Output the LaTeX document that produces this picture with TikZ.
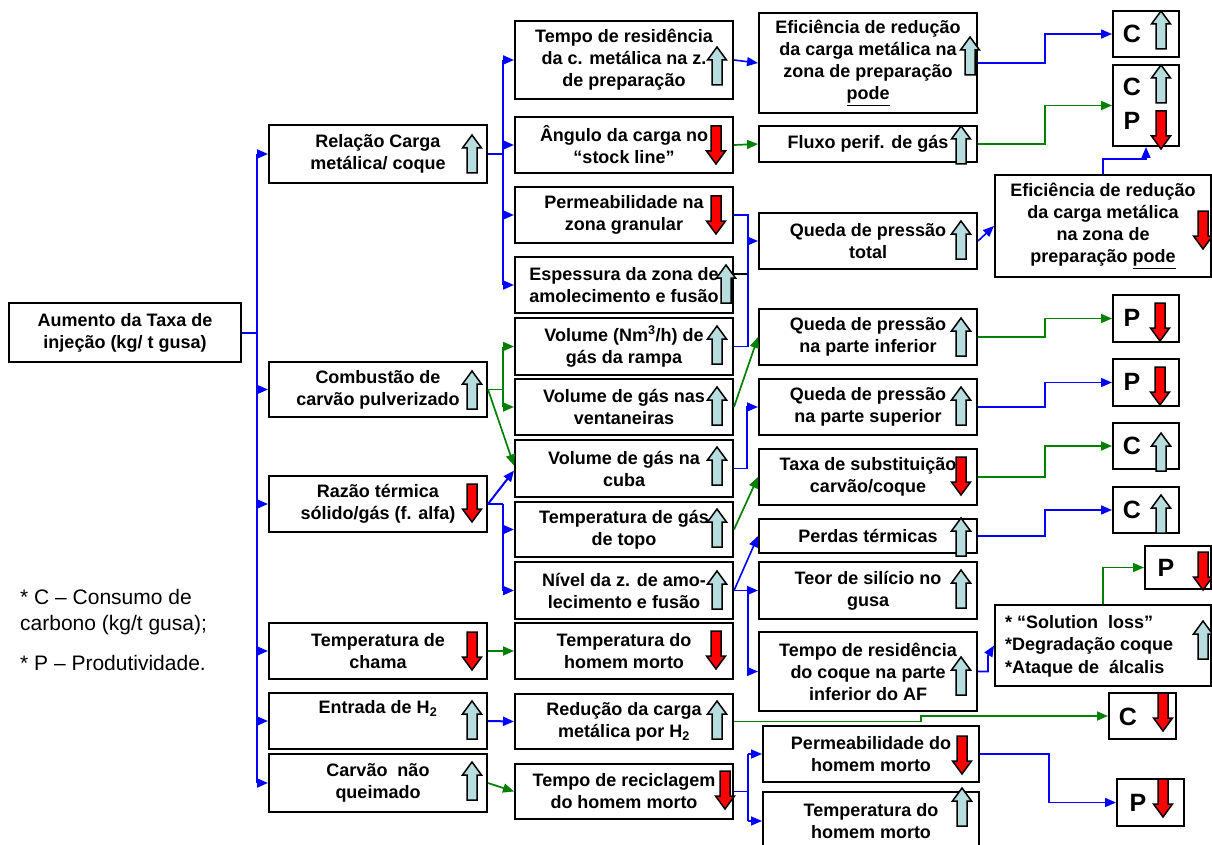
\documentclass[tikz,border=0pt]{standalone}
\usepackage{fontspec}
\setmainfont{Liberation Sans}
\usetikzlibrary{arrows.meta,calc}
\definecolor{lblue}{RGB}{183,221,223}
\definecolor{gr}{RGB}{0,128,0}
\definecolor{bb}{RGB}{0,0,255}
\tikzset{
  box/.style={draw=black,line width=2pt,fill=white,inner sep=0pt,align=center,
    font=\bfseries\fontsize{18}{22}\selectfont},
  let/.style={inner sep=0pt,font=\bfseries\fontsize{25}{25}\selectfont},
  tipA/.style={-{Triangle[length=11pt,width=9pt]}},
  blt/.style={draw=bb,line width=2pt},
  bl/.style={draw=bb,line width=1.6pt},
  gl/.style={draw=gr,line width=1.7pt},
  uarr/.pic={\draw[line width=1.5pt,fill=lblue,line join=miter]
    (-5,19) -- (-5,-6) -- (-9.5,-6) -- (0,-19) -- (9.5,-6) -- (5,-6) -- (5,19) -- cycle;},
  darr/.pic={\draw[line width=1.5pt,fill=red,line join=miter]
    (-5,-19) -- (-5,6) -- (-9.5,6) -- (0,19) -- (9.5,6) -- (5,6) -- (5,-19) -- cycle;}
}
\newcommand\bxe[6]{%
  \pgfmathsetmacro\bxw{#4-#2}\pgfmathsetmacro\bxh{#5-#3}%
  \pgfmathsetmacro\bxcx{(#2+#4)/2}\pgfmathsetmacro\bxcy{(#3+#5)/2}%
  \node[box,minimum width=\bxw pt,minimum height=\bxh pt] (#1) at (\bxcx,\bxcy) {#6};}
\begin{document}
\begin{tikzpicture}[x=1pt,y=-1pt]
\useasboundingbox (0,0) rectangle (1212,845);
\fill[white] (0,0) rectangle (1212,845);
% ---------- boxes ----------
\bxe{root}{9}{303}{241}{362}{Aumento da Taxa de\\injeção (kg/ t gusa)}
\bxe{r1}{269}{125}{487}{183}{Relação Carga\\metálica/ coque}
\bxe{r2}{269}{362}{487}{417}{Combustão de\\carvão pulverizado}
\bxe{r3}{269}{476}{487}{532}{Razão térmica\\sólido/gás (f. alfa)}
\bxe{r4}{269}{623}{487}{679}{Temperatura de\\chama}
\bxe{r5}{269}{693}{487}{749}{Entrada de H\textsubscript{2}\\\strut}
\bxe{r6}{269}{754}{487}{812}{Carvão\ \ não\\queimado}
\bxe{s1}{515}{21}{733}{99}{Tempo de residência\\da c. metálica na z.\\de preparação}
\bxe{s2}{515}{117}{733}{173}{Ângulo da carga no\\“stock line”}
\bxe{s3}{515}{187}{733}{243}{Permeabilidade na\\zona granular}
\bxe{s4}{515}{257}{733}{313}{Espessura da zona de\\amolecimento e fusão}
\bxe{s5}{515}{318}{733}{375}{Volume (Nm\textsuperscript{3}/h) de\\gás da rampa}
\bxe{s6}{515}{379}{733}{435}{Volume de gás nas\\ventaneiras}
\bxe{s7}{515}{440}{733}{497}{Volume de gás na\\cuba}
\bxe{s8}{515}{502}{733}{557}{Temperatura de gás\\de topo}
\bxe{s9}{515}{562}{733}{619}{Nível da z. de amo-\\lecimento e fusão}
\bxe{s10}{515}{623}{733}{679}{Temperatura do\\homem morto}
\bxe{s11}{515}{694}{733}{749}{Redução da carga\\metálica por H\textsubscript{2}}
\bxe{s12}{515}{764}{733}{819}{Tempo de reciclagem\\do homem morto}
\bxe{t1}{759}{13}{977}{113}{Eficiência de redução\\da carga metálica na\\zona de preparação\\\underline{pode}}
\bxe{t2}{759}{126}{977}{162}{Fluxo perif. de gás}
\bxe{t3}{759}{213}{977}{269}{Queda de pressão\\total}
\bxe{t4}{759}{309}{977}{365}{Queda de pressão\\na parte inferior}
\bxe{t5}{759}{379}{977}{435}{Queda de pressão\\na parte superior}
\bxe{t6}{759}{449}{977}{505}{Taxa de substituição\\carvão/coque}
\bxe{t7}{759}{519}{977}{553}{Perdas térmicas}
\bxe{t8}{759}{562}{977}{619}{Teor de silício no\\gusa}
\bxe{t9}{759}{632}{977}{711}{Tempo de residência\\do coque na parte\\inferior do AF}
\bxe{t10}{763}{726}{979}{782}{Permeabilidade do\\homem morto}
\bxe{t11}{763}{792}{979}{850}{Temperatura do\\homem morto}
\bxe{u1}{1113}{11}{1179}{57}{}
\bxe{u2}{1113}{65}{1179}{146}{}
\bxe{u3}{995}{175}{1211}{277}{Eficiência de redução\\da carga metálica\\na zona de\\preparação \underline{pode}}
\bxe{u4}{1113}{295}{1179}{342}{}
\bxe{u5}{1113}{359}{1179}{406}{}
\bxe{u6}{1113}{423}{1179}{469}{}
\bxe{u7}{1113}{487}{1179}{533}{}
\bxe{u8}{1145}{546}{1211}{589}{}
\bxe{u9}{995}{605}{1211}{686}{}
\bxe{u10}{1109}{693}{1176}{739}{}
\bxe{u11}{1117}{779}{1184}{826}{}
\node[inner sep=0pt,anchor=west,align=left,font=\bfseries\fontsize{18}{22.5}\selectfont] (sltxt) at (1005,646)
  {* “Solution\ \ loss”\\*Degradação coque\\*Ataque de\ \ álcalis};
% letters
\node[let] (l1) at (1132,34) {C};
\node[let] (l2) at (1132,87) {C};
\node[let] (l3) at (1132,121) {P};
\node[let] (l4) at (1132,318) {P};
\node[let] (l5) at (1132,382) {P};
\node[let] (l6) at (1132,446) {C};
\node[let] (l7) at (1132,510) {C};
\node[let] (l8) at (1166,568) {P};
\node[let] (l9) at (1128,717) {C};
\node[let] (l10) at (1138,803) {P};
% legend
\node[inner sep=0pt,anchor=west,align=left,font=\fontsize{21}{26}\selectfont] (leg1) at (20,612)
  {* C – Consumo de\\carbono (kg/t gusa);};
\node[inner sep=0pt,anchor=west,align=left,font=\fontsize{21}{26}\selectfont] (leg2) at (20,663)
  {* P – Produtividade.};
% ---------- connectors: root -> level 1 ----------
\draw[blt] (root.east) -- ++(15,0) coordinate (tr);
\draw[blt] (tr |- r1.west) -- (tr |- r6.west);
\foreach \n in {r1,r2,r3,r4,r5,r6} \draw[blt,tipA] (tr |- \n.west) -- (\n.west);
% level 1 -> level 2
\draw[blt] (r1.east) -- ++(15,0) coordinate (b1);
\draw[blt] (b1 |- s1.west) -- (b1 |- s4.west);
\foreach \n in {s1,s2,s3,s4} \draw[blt,tipA] (b1 |- \n.west) -- (\n.west);
\draw[gl] (r2.east) -- ++(15,0) coordinate (b2);
\draw[gl] (b2 |- s5.west) -- (b2 |- s6.west);
\foreach \n in {s5,s6} \draw[gl,tipA] (b2 |- \n.west) -- (\n.west);
\draw[gl,tipA] (r2.east) -- ($(s7.west)+(0,-3)$);
\draw[blt,tipA] (r3.east) -- ($(s7.west)+(0,2)$);
\draw[blt] (r3.east) -- ++(15,0) coordinate (b3);
\draw[blt] (b3) -- (b3 |- s9.west);
\foreach \n in {s8,s9} \draw[blt,tipA] (b3 |- \n.west) -- (\n.west);
\draw[gl,tipA] (r4.east) -- (s10.west);
\draw[blt,tipA] (r5.east) -- (s11.west);
\draw[gl,tipA] (r6.east) -- (s12.west);
% level 2 -> level 3
\draw[bl,tipA] (s1.east) -- (t1.west);
\draw[gl,tipA] (s2.east) -- (t2.west);
\draw[bl] (s3.east) -- ++(14,0) coordinate (b4) -- (b4 |- s5.east) -- (s5.east);
\draw[black,line width=1.3pt] ($(s4.east)+(0,-11)$) -- ($(s4.east)+(14,-11)$);
\draw[bl,tipA] (b4 |- t3.west) -- (t3.west);
\draw[gl,tipA] (s6.east) -- (t4.west);
\draw[bl,tipA] (s7.east) -- ++(13,0) |- (t5.west);
\draw[gl,tipA] (s8.east) -- (t6.west);
\draw[bl,tipA] (s9.east) -- (t7.west);
\draw[bl] (s9.east) -- ++(14,0) coordinate (b5);
\draw[bl,tipA] (b5) -- (b5 |- t8.west) -- (t8.west);
\draw[bl,tipA] (b5) |- (t9.west);
\draw[gl,tipA] (s11.east) -- ++(187,0) |- (u10.west);
\draw[bl] (s12.east) -- ++(14,0) coordinate (b6);
\draw[bl] (b6 |- t10.west) -- (b6 |- t11.west);
\foreach \n in {t10,t11} \draw[bl,tipA] (b6 |- \n.west) -- (\n.west);
% level 3 -> level 4
\draw[bl,tipA] (t1.east) -- ++(67,0) |- (u1.west);
\draw[gl,tipA] (t2.east) -- ++(67,0) |- (u2.west);
\draw[bl,tipA] (t3.east) -- (u3.west);
\draw[bl,tipA] (u3.north) -- ++(0,-15) -| (u2.south);
\draw[gl,tipA] (t4.east) -- ++(67,0) |- (u4.west);
\draw[bl,tipA] (t5.east) -- ++(67,0) |- (u5.west);
\draw[gl,tipA] (t6.east) -- ++(67,0) |- (u6.west);
\draw[bl,tipA] (t7.east) -- ++(67,0) |- (u7.west);
\draw[gl,tipA] (u9.north) |- (u8.west);
\draw[bl,tipA] (t9.east) -- ++(10,0) -- ++(0,-16) -- (u9.west);
\draw[bl,tipA] (t10.east) -- ++(69,0) |- (u11.west);
% ---------- block arrows ----------
\pic at (472,154) {uarr};
\pic at (472,390) {uarr};
\pic at (472,503) {darr};
\pic at (472,651) {darr};
\pic at (472,720) {uarr};
\pic at (472,781) {uarr};
\pic at (717,66) {uarr};
\pic at (716,145) {darr};
\pic at (716,215) {darr};
\pic at (726,284) {uarr};
\pic at (717,345) {uarr};
\pic at (717,406) {uarr};
\pic at (717,466) {uarr};
\pic at (717,528) {uarr};
\pic at (717,590) {uarr};
\pic at (716,650) {darr};
\pic at (717,720) {uarr};
\pic at (725,790) {darr};
\pic at (970,56) {uarr};
\pic at (961,145) {uarr};
\pic at (961,240) {uarr};
\pic at (961,337) {uarr};
\pic at (961,406) {uarr};
\pic at (961,476) {darr};
\pic at (961,537) {uarr};
\pic at (961,589) {uarr};
\pic at (961,676) {uarr};
\pic at (962,755) {darr};
\pic at (962,807) {uarr};
\pic at (1161,30) {uarr};
\pic at (1161,84) {uarr};
\pic at (1161,130) {darr};
\pic at (1203,230) {darr};
\pic at (1160,322) {darr};
\pic at (1160,386) {darr};
\pic at (1161,452) {uarr};
\pic at (1161,514) {uarr};
\pic at (1203,571) {darr};
\pic at (1203,640) {uarr};
\pic at (1163,712) {darr};
\pic at (1163,798) {darr};
\end{tikzpicture}
\end{document}
